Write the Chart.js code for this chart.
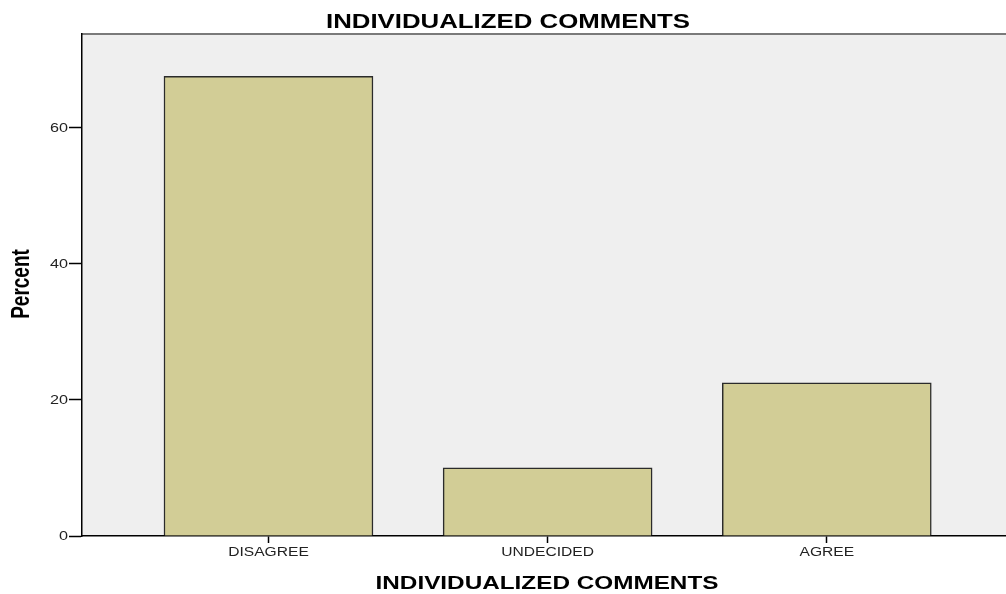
<!DOCTYPE html>
<html>
<head>
<meta charset="utf-8">
<script src="https://cdn.jsdelivr.net/npm/chart.js@4"></script>
<style>
  html, body { margin: 0; padding: 0; background: #fff; }
  #wrap { width: 1006px; height: 594px; }
</style>
</head>
<body>
<div id="wrap"><canvas id="myChart" width="1006" height="594"></canvas></div>
<script>
// Chart data
const categories = ['DISAGREE', 'UNDECIDED', 'AGREE'];
const percentValues = [67.5, 10.0, 22.5];
const yTicks = [0, 20, 40, 60];
const chartTitle = 'INDIVIDUALIZED COMMENTS';
const xTitle = 'INDIVIDUALIZED COMMENTS';
const yTitle = 'Percent';

const canvas = document.getElementById('myChart');
const ctx = canvas.getContext('2d');

// the source picture is stretched sideways, so text is drawn wider than normal
function wideText(c, text, x, y, font, sx, align, baseline, rotate) {
  c.save();
  c.font = font;
  c.textAlign = align;
  c.textBaseline = baseline;
  c.translate(x, y);
  c.scale(sx, 1);
  if (rotate) c.rotate(-Math.PI / 2);
  c.fillText(text, 0, 0);
  c.restore();
}

// grey plot background + top border, like SPSS output
const plotBackground = {
  id: 'plotBackground',
  beforeDraw(chart) {
    const a = chart.chartArea;
    const c = chart.ctx;
    c.save();
    c.fillStyle = '#efefef';
    c.fillRect(a.left, a.top, a.right - a.left, a.bottom - a.top);
    c.strokeStyle = '#7a7a7a';
    c.lineWidth = 2;
    c.beginPath();
    c.moveTo(a.left, a.top);
    c.lineTo(a.right, a.top);
    c.stroke();
    c.restore();
  },
  afterDraw(chart) {
    const c = chart.ctx;
    const xs = chart.scales.x;
    const ys = chart.scales.y;
    const a = chart.chartArea;
    c.fillStyle = '#222';
    categories.forEach((cat, i) => {
      wideText(c, cat, xs.getPixelForValue(i), a.bottom + 17, '12px "Liberation Sans", Arial, sans-serif', 1.3, 'center', 'middle');
    });
    yTicks.forEach(v => {
      wideText(c, String(v), a.left - 14, ys.getPixelForValue(v) + 1, '12px "Liberation Sans", Arial, sans-serif', 1.35, 'right', 'middle');
    });
    c.fillStyle = '#000';
    wideText(c, chartTitle, 508, 28, 'bold 20px "Liberation Sans", Arial, sans-serif', 1.29, 'center', 'alphabetic');
    wideText(c, xTitle, 547, 589, 'bold 18px "Liberation Sans", Arial, sans-serif', 1.35, 'center', 'alphabetic');
    wideText(c, yTitle, 22, 284, 'bold 19px "Liberation Sans", Arial, sans-serif', 1.33, 'center', 'middle', true);
  }
};

const points = categories.map((c, i) => ({ x: i, y: percentValues[i] }));

new Chart(ctx, {
  type: 'bar',
  data: {
    datasets: [{
      label: 'Percent',
      data: points,
      backgroundColor: '#d2cd96',
      borderColor: '#2b2b2b',
      borderWidth: 1.5,
      barThickness: 209
    }]
  },
  options: {
    responsive: false,
    animation: false,
    layout: { padding: { left: 0, right: 0, top: 34, bottom: 0 } },
    plugins: {
      legend: { display: false },
      tooltip: { enabled: false },
      title: { display: false }
    },
    scales: {
      x: {
        type: 'linear',
        offset: false,
        min: -0.668,
        max: 2.642,
        afterBuildTicks(scale) {
          scale.ticks = categories.map((c, i) => ({ value: i }));
        },
        afterFit(scale) { scale.height = 58; },
        ticks: { display: false },
        grid: { offset: false, drawOnChartArea: false, tickLength: 7, color: '#000', tickWidth: 1.5 },
        border: { color: '#000', width: 1.5 }
      },
      y: {
        min: 0,
        max: 73.7,
        afterBuildTicks(scale) {
          scale.ticks = yTicks.map(v => ({ value: v }));
        },
        afterFit(scale) { scale.width = 82; },
        ticks: { display: false },
        grid: { drawOnChartArea: false, tickLength: 13, color: '#000', tickWidth: 1.5 },
        border: { color: '#000', width: 1.5 }
      }
    }
  },
  plugins: [plotBackground]
});
</script>
</body>
</html>
